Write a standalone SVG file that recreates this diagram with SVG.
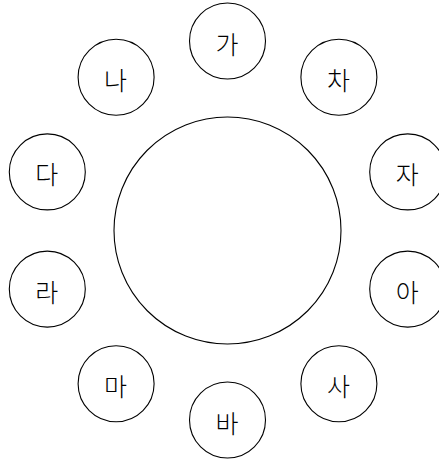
<svg xmlns="http://www.w3.org/2000/svg" width="439" height="459" viewBox="0 0 439 459">
<style>
circle{fill:#fff;stroke:#000;stroke-width:1.1}
text{font-family:"Noto Sans CJK KR","Noto Sans",sans-serif;font-size:25px;font-weight:300;fill:#000;text-anchor:middle;dominant-baseline:central}
</style>
<rect width="439" height="459" fill="#fff"/>
<g id="center"><circle cx="227.5" cy="230.5" r="113.5"/></g>
<g id="n1"><circle cx="227.5" cy="41" r="38"/><text x="227" y="42.5">가</text></g>
<g id="n2"><circle cx="116.1" cy="77.2" r="38"/><text x="115.6" y="78.7">나</text></g>
<g id="n3"><circle cx="47.3" cy="171.9" r="38"/><text x="46.8" y="173.4">다</text></g>
<g id="n4"><circle cx="47.3" cy="289.1" r="38"/><text x="46.8" y="290.6">라</text></g>
<g id="n5"><circle cx="116.1" cy="383.8" r="38"/><text x="115.6" y="385.3">마</text></g>
<g id="n6"><circle cx="227.5" cy="420" r="38"/><text x="227" y="421.5">바</text></g>
<g id="n7"><circle cx="338.9" cy="383.8" r="38"/><text x="338.4" y="385.3">사</text></g>
<g id="n8"><circle cx="407.7" cy="289.1" r="38"/><text x="407.2" y="290.6">아</text></g>
<g id="n9"><circle cx="407.7" cy="171.9" r="38"/><text x="407.2" y="173.4">자</text></g>
<g id="n10"><circle cx="338.9" cy="77.2" r="38"/><text x="338.4" y="78.7">차</text></g>
<g id="connectors"></g>
</svg>
